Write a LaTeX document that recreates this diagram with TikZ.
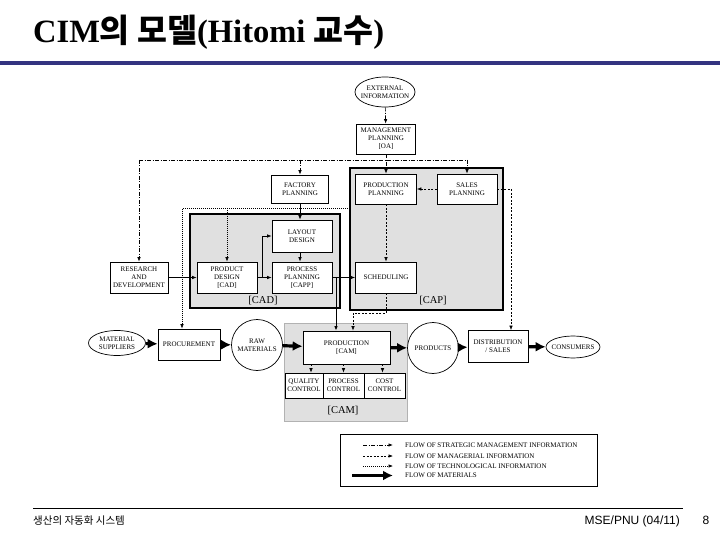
\documentclass[tikz,border=0pt]{standalone}
\usepackage{fontspec}
\setmainfont{Liberation Serif}
\newfontfamily\kr{Noto Sans CJK KR}
\newfontfamily\arialf{Liberation Sans}
\usetikzlibrary{arrows.meta,shapes.geometric}
\definecolor{navyline}{RGB}{51,51,128}
\newcommand\lbl{\fontsize{7}{7.9}\selectfont}
\tikzset{
  box/.style={draw, fill=white, line width=0.7pt, font=\lbl, align=center, inner sep=0pt},
  ell/.style={draw, ellipse, fill=white, line width=0.7pt, font=\lbl, align=center, inner xsep=-6pt, inner ysep=-2pt},
  circ/.style={draw, circle, fill=white, line width=0.7pt, font=\lbl, align=center, inner sep=-4pt, minimum size=51pt},
  region/.style={draw, fill=gray!24, line width=1.2pt, inner sep=0pt},
  strat/.style={line width=0.7pt, dash pattern=on 4pt off 1.5pt on 1pt off 1.5pt, -{Latex[length=4.5pt,width=3.5pt]}},
  manag/.style={line width=0.6pt, dash pattern=on 2pt off 1.5pt, -{Latex[length=4.5pt,width=3.5pt]}},
  techl/.style={line width=0.6pt, dash pattern=on 0.8pt off 1.2pt, -{Latex[length=4.5pt,width=3.5pt]}},
  solidl/.style={line width=0.7pt, -{Latex[length=4.5pt,width=3.5pt]}},
  mat/.style={line width=3.2pt, -{Latex[length=10pt,width=10pt]}},
  regl/.style={font=\fontsize{10.5}{12}\selectfont, inner sep=0pt},
  legt/.style={font=\lbl, anchor=west, inner sep=0pt},
}
\begin{document}
\begin{tikzpicture}[x=1pt,y=-1pt]
\useasboundingbox (0,0) rectangle (720,540);
% title
\node[anchor=base west, inner sep=0pt] (title) at (33,43)
  {\fontsize{32.5}{35}\selectfont\bfseries CIM{\kr\bfseries 의 모델}(Hitomi {\kr\bfseries 교수})};
\fill[navyline] (0,61) rectangle (720,65);
% footer
\draw[line width=0.8pt] (33,508) -- (683,508);
\node[anchor=base west, inner sep=0pt, font=\kr\fontsize{10.5}{12}\selectfont] (ft1) at (33,524) {생산의 자동화 시스템};
\node[anchor=base east, inner sep=0pt, font=\arialf\fontsize{12}{13}\selectfont] (ft2) at (680,524) {MSE/PNU (04/11)};
\node[anchor=base, inner sep=0pt, font=\arialf\fontsize{12}{13}\selectfont] (ft3) at (706,524) {8};

% shaded regions
\node[region, minimum width=150pt, minimum height=94pt] (cadreg) at (265,261) {};
\node[region, minimum width=153pt, minimum height=142pt] (capreg) at (426.5,239) {};
\node[region, draw=gray!60, line width=0.5pt, minimum width=123pt, minimum height=98pt] (camreg) at (345.5,372) {};
\node[regl] (cadl) at (263,301) {[CAD]};
\node[regl] (capl) at (433,301) {[CAP]};
\node[regl] (caml) at (343,411) {[CAM]};

% nodes
\node[ell, minimum width=60pt, minimum height=30pt] (ext) at (385,92) {EXTERNAL\\INFORMATION};
\node[box, minimum width=59pt, minimum height=30pt] (mgmt) at (386,139) {MANAGEMENT\\PLANNING\\{[OA]}};
\node[box, minimum width=57pt, minimum height=28pt] (fp) at (300,189) {FACTORY\\PLANNING};
\node[box, minimum width=61pt, minimum height=30pt] (pp) at (386,189) {PRODUCTION\\PLANNING};
\node[box, minimum width=60pt, minimum height=30pt] (sp) at (467,189) {SALES\\PLANNING};
\node[box, minimum width=60pt, minimum height=32pt] (lay) at (302,236) {LAYOUT\\DESIGN};
\node[box, minimum width=60pt, minimum height=31pt] (prp) at (302,277.5) {PROCESS\\PLANNING\\{[CAPP]}};
\node[box, minimum width=60pt, minimum height=31pt] (pd) at (227,277.5) {PRODUCT\\DESIGN\\{[CAD]}};
\node[box, minimum width=58pt, minimum height=31pt] (rd) at (139,277.5) {RESEARCH\\AND\\DEVELOPMENT};
\node[box, minimum width=61pt, minimum height=31pt] (sch) at (386,277.5) {SCHEDULING};
\node[ell, minimum width=57pt, minimum height=25pt] (ms) at (117,343) {MATERIAL\\SUPPLIERS};
\node[box, minimum width=62pt, minimum height=31pt] (proc) at (189,344.5) {PROCUREMENT};
\node[circ] (raw) at (257,345) {RAW\\MATERIALS};
\node[box, minimum width=87pt, minimum height=33pt] (prod) at (346.5,347.5) {PRODUCTION\\{[CAM]}};
\node[box, minimum width=38pt, minimum height=25pt] (qc) at (304,385.5) {QUALITY\\CONTROL};
\node[box, minimum width=41pt, minimum height=25pt] (pc) at (343.5,385.5) {PROCESS\\CONTROL};
\node[box, minimum width=41pt, minimum height=25pt] (cc) at (384.5,385.5) {COST\\CONTROL};
\node[circ] (prods) at (433,348) {PRODUCTS};
\node[box, minimum width=60pt, minimum height=32pt] (dist) at (498,346.5) {DISTRIBUTION\\/ SALES};
\node[ell, minimum width=54pt, minimum height=22pt] (cons) at (573,347) {CONSUMERS};

% strategic
\coordinate (hy) at (0,160);
\coordinate (hL) at (rd.north |- hy);
\coordinate (hR) at (sp.north |- hy);
\draw[strat] (ext) -- (mgmt);
\draw[strat] (mgmt.south) -- (pp.north);
\draw[strat,-] (hL) -- (hR);
\draw[strat] (hL) -- (rd.north);
\draw[strat] (fp.north |- hy) -- (fp.north);
\draw[strat] (hR) -- (sp.north);

% technological
\coordinate (t0) at (capreg.west |- 0,208);
\coordinate (tL) at (182,208);
\draw[techl] (t0) -- (tL) -- (tL |- proc.north);
\draw[techl] (pd.north |- tL) -- (pd.north);

% managerial
\draw[manag] (sp.west) -- (pp.east);
\draw[manag] (pp.south) -- (sch.north);
\coordinate (m1) at (353,313);
\draw[manag] (sch.south) |- (m1) -- (m1 |- prod.north);
\coordinate (m2) at (511,189);
\draw[manag] (sp.east) -- (m2) -- (m2 |- dist.north);
\draw[manag] ([xshift=7pt]prod.south -| qc.north) -- ([xshift=7pt]qc.north);
\draw[manag] (prod.south -| pc.north) -- (pc.north);
\draw[manag] ([xshift=-2pt]prod.south -| cc.north) -- ([xshift=-2pt]cc.north);

% solid (technological detail)
\draw[solidl] (rd) -- (pd);
\draw[solidl] (fp.south) -- (fp.south |- lay.north);
\draw[solidl] (fp.south |- lay.south) -- (fp.south |- prp.north);
\draw[solidl] (pd.east) -- (prp.west);
\coordinate (b1) at (262,277.5);
\draw[solidl] (b1) |- (lay.west);
\draw[solidl] (prp.east) -- (sch.west);
\coordinate (c1) at (336,277.5);
\draw[solidl, line width=1pt] (c1) -- (c1 |- prod.north);

% materials
\draw[mat] (ms) -- (proc);
\draw[mat] (proc) -- (raw);
\draw[mat] (raw) -- (prod);
\draw[mat] (prod) -- (prods);
\draw[mat] (prods) -- (dist);
\draw[mat] (dist) -- (cons);

% legend
\node[draw, line width=0.6pt, minimum width=257pt, minimum height=52pt, inner sep=0pt] (leg) at (469,460) {};
\coordinate (la1) at (363,445); \coordinate (lb1) at (393,445);
\coordinate (la2) at (363,456); \coordinate (lb2) at (393,456);
\coordinate (la3) at (363,466); \coordinate (lb3) at (393,466);
\coordinate (la4) at (352,475.5); \coordinate (lb4) at (393,475.5);
\draw[strat] (la1) -- (lb1);
\draw[manag] (la2) -- (lb2);
\draw[techl] (la3) -- (lb3);
\draw[mat] (la4) -- (lb4);
\node[legt] (lt1) at (405,445) {FLOW OF STRATEGIC MANAGEMENT INFORMATION};
\node[legt] (lt2) at (405,456) {FLOW OF MANAGERIAL INFORMATION};
\node[legt] (lt3) at (405,466) {FLOW OF TECHNOLOGICAL INFORMATION};
\node[legt] (lt4) at (405,475.5) {FLOW OF MATERIALS};
\end{tikzpicture}
\end{document}
